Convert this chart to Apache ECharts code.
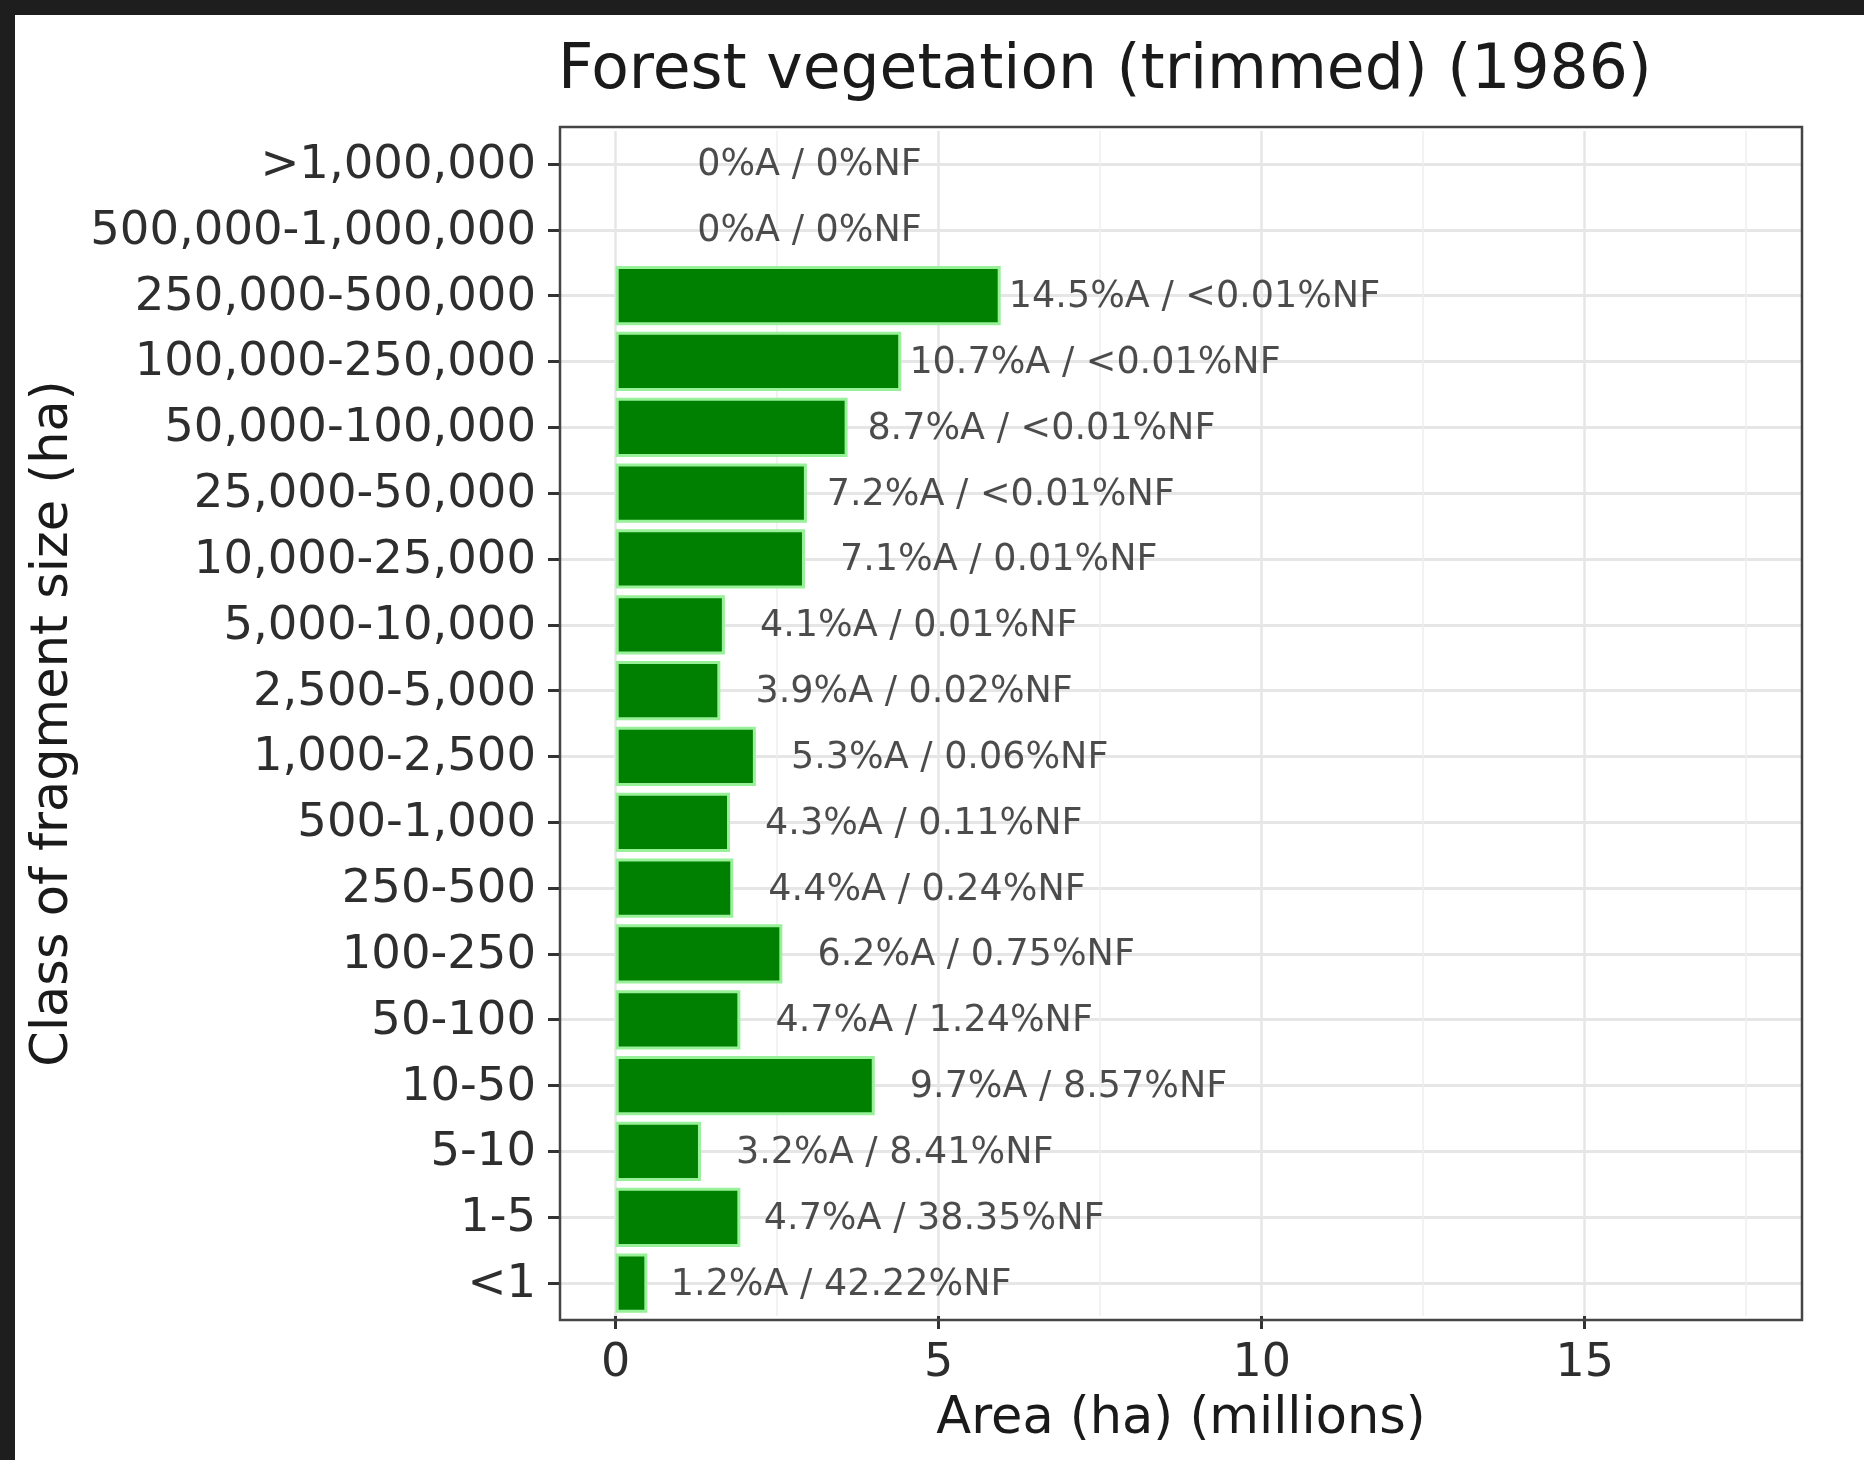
<!DOCTYPE html>
<html>
<head>
    <meta charset="utf-8">
    <title>Forest vegetation (trimmed) (1986)</title>
    <script src="https://cdn.jsdelivr.net/npm/echarts@6/dist/echarts.min.js"></script>
    <style>
        html, body { margin: 0; padding: 0; background: #fff; overflow: hidden; }
        #main { position: absolute; left: 0; top: 0; width: 1864px; height: 1460px; }
        /* dark frame of the original photo */
        .frame { position: absolute; background: #1e1e1e; z-index: 10; }
        #frameTop { left: 0; top: 0; width: 1864px; height: 15px; }
        #frameLeft { left: 0; top: 0; width: 15px; height: 1460px; }
    </style>
</head>
<body>
<div id="main"></div>
<div class="frame" id="frameTop"></div>
<div class="frame" id="frameLeft"></div>

<script type="text/javascript">
    // fragment size classes, top to bottom
    var classes = ['>1,000,000', '500,000-1,000,000', '250,000-500,000', '100,000-250,000',
        '50,000-100,000', '25,000-50,000', '10,000-25,000', '5,000-10,000', '2,500-5,000',
        '1,000-2,500', '500-1,000', '250-500', '100-250', '50-100', '10-50', '5-10', '1-5', '<1'];

    // area in millions of ha
    var areaMillions = [0, 0, 5.96, 4.42, 3.59, 2.96, 2.93, 1.69, 1.62, 2.17, 1.77, 1.82, 2.58, 1.93, 4.01, 1.32, 1.93, 0.49];

    // % of area and % of number of fragments
    var pctArea = ['0', '0', '14.5', '10.7', '8.7', '7.2', '7.1', '4.1', '3.9', '5.3', '4.3', '4.4', '6.2', '4.7', '9.7', '3.2', '4.7', '1.2'];
    var pctNF = ['0', '0', '<0.01', '<0.01', '<0.01', '<0.01', '0.01', '0.01', '0.02', '0.06', '0.11', '0.24', '0.75', '1.24', '8.57', '8.41', '38.35', '42.22'];

    var xTicks = [0, 5, 10, 15];
    var xMinorTicks = [2.5, 7.5, 12.5, 17.5];
    var labelShift = 3; // labels sit 3M to the right of bar end

    var font = 'DejaVu Sans';

    var barData = areaMillions.map(function (v) {
        if (v === 0) return { value: 0, itemStyle: { borderWidth: 0 } };
        return v;
    });
    var labelData = areaMillions.map(function (v, i) {
        return [v + labelShift, i];
    });

    var chart = echarts.init(document.getElementById('main'));

    chart.setOption({
        animation: false,
        backgroundColor: '#ffffff',
        graphic: [
            // panel border
            { type: 'rect', shape: { x: 560, y: 127, width: 1242, height: 1193 },
              style: { fill: null, stroke: '#454545', lineWidth: 2.5 }, z: 50 }
        ],
        title: {
            text: 'Forest vegetation (trimmed) (1986)',
            left: 558,
            top: 41,
            padding: 0,
            textStyle: { fontFamily: font, fontSize: 61.5, fontWeight: 'normal', color: '#1a1a1a' }
        },
        grid: {
            left: 560,
            right: 62,
            top: 131,
            bottom: 144,
            show: false
        },
        xAxis: [
            {
                type: 'value',
                min: -0.862,
                max: 18.364,
                name: 'Area (ha) (millions)',
                nameLocation: 'middle',
                nameGap: 78,
                nameTextStyle: { fontFamily: font, fontSize: 51, color: '#1a1a1a' },
                axisLine: { show: false, onZero: false },
                axisTick: { show: true, length: 13, customValues: xTicks, lineStyle: { color: '#333', width: 3 } },
                axisLabel: { customValues: xTicks, margin: 25, fontFamily: font, fontSize: 46, color: '#2e2e2e' },
                splitLine: { show: true, lineStyle: { color: '#e6e6e6', width: 2.5 } }
            },
            {
                type: 'value',
                min: -0.862,
                max: 18.364,
                axisLine: { show: false, onZero: false },
                axisTick: { show: false, customValues: xMinorTicks },
                axisLabel: { show: false, customValues: xMinorTicks },
                splitLine: { show: true, lineStyle: { color: '#eeeeee', width: 1.5 } }
            }
        ],
        yAxis: {
            type: 'category',
            data: classes,
            inverse: true,
            name: 'Class of fragment size (ha)',
            nameLocation: 'middle',
            nameGap: 472,
            nameTextStyle: { fontFamily: font, fontSize: 51, color: '#1a1a1a' },
            axisLine: { show: false, onZero: false },
            axisTick: { show: true, alignWithLabel: true, length: 12, lineStyle: { color: '#333', width: 3 } },
            axisLabel: {
                margin: 24, fontFamily: font, fontSize: 46.5, color: '#2e2e2e', interval: 0,
                verticalAlign: 'top', lineHeight: 4
            },
            splitLine: { show: true, alignWithLabel: true, interval: 0, lineStyle: { color: '#e6e6e6', width: 3 } }
        },
        series: [
            {
                name: 'Area',
                type: 'bar',
                xAxisIndex: 0,
                data: barData,
                barWidth: '90%',
                itemStyle: { color: '#008000', borderColor: '#98f098', borderWidth: 3 }
            },
            {
                name: 'labels',
                type: 'scatter',
                xAxisIndex: 0,
                data: labelData,
                symbolSize: 0,
                silent: true,
                z: 5,
                label: {
                    show: true,
                    position: 'inside',
                    fontFamily: font,
                    fontSize: 36.5,
                    color: '#1f1f1f',
                    verticalAlign: 'top',
                    lineHeight: 4,
                    formatter: function (p) {
                        var i = p.dataIndex;
                        return pctArea[i] + '%A / ' + pctNF[i] + '%NF';
                    }
                }
            }
        ]
    });
</script>

</body>
</html>
